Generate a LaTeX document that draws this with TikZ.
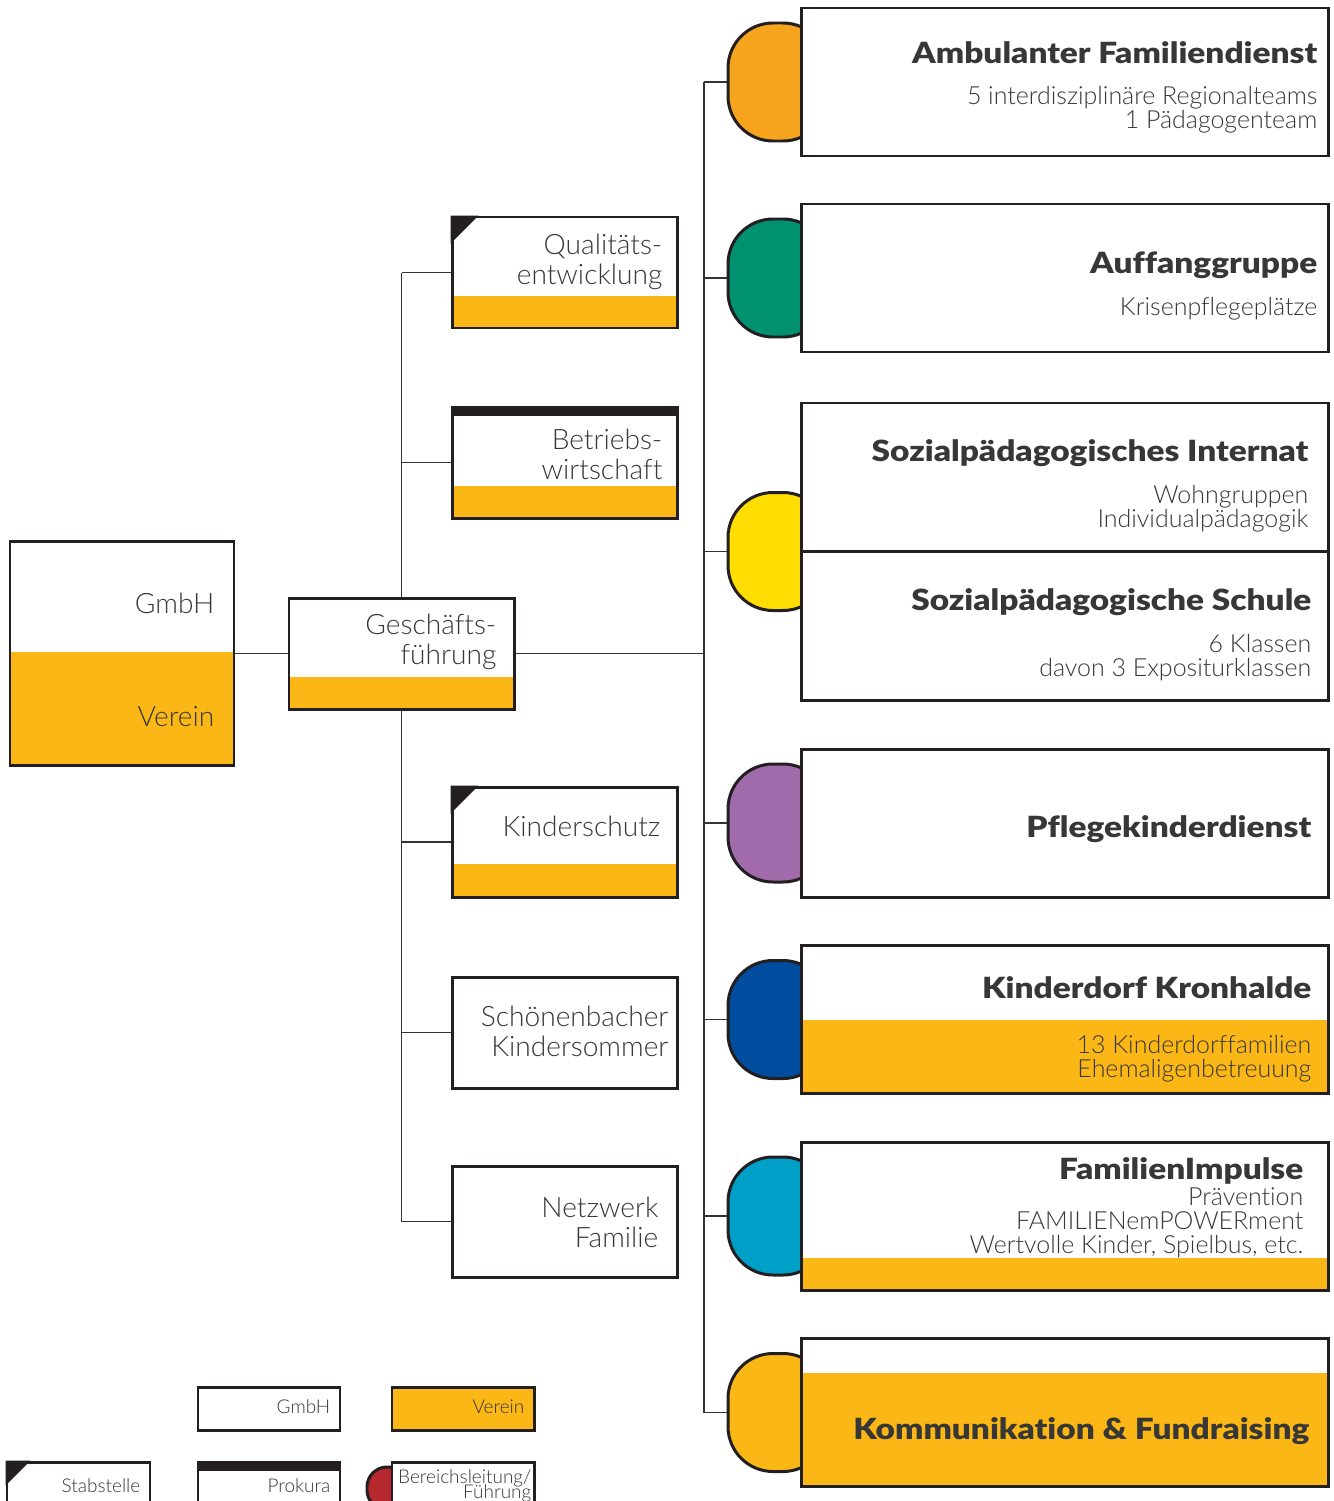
\documentclass[tikz,border=0pt]{standalone}
\usepackage{fontspec}
\setmainfont{Lato}[UprightFont=* Light, BoldFont=* Black, BoldFeatures={FakeStretch=1.145}, Ligatures=CommonOff]
\definecolor{ink}{RGB}{35,31,32}
\definecolor{grau}{RGB}{55,55,55}
\definecolor{verein}{RGB}{251,183,21}
\definecolor{ambC}{RGB}{246,164,30}
\definecolor{aufC}{RGB}{0,146,112}
\definecolor{sozC}{RGB}{255,221,0}
\definecolor{pflC}{RGB}{160,106,171}
\definecolor{kdfC}{RGB}{0,76,159}
\definecolor{famC}{RGB}{0,159,200}
\definecolor{leitC}{RGB}{183,40,46}
\newcommand\tightlines{\lineskiplimit=-5pt\lineskip=0pt\relax}

\begin{document}
\begin{tikzpicture}[
    rim/.style={draw=ink, line width=0.85pt},
    box/.style={rim, fill=white, minimum width=2.25cm, minimum height=1.11cm, inner sep=0pt},
    wide/.style={rim, fill=white, minimum width=5.27cm, minimum height=1.48cm, inner sep=0pt},
    tab/.style={rim, rounded corners=0.45cm, minimum width=1cm, minimum height=1.18cm, inner sep=0pt},
    band/.style={path picture={\fill[verein] ([yshift=#1]path picture bounding box.south west) rectangle (path picture bounding box.south east);}},
    link/.style={draw=black!80, line width=0.4pt},
    txt/.style={text=grau, inner sep=0pt, align=right, anchor=north east, font=\fontsize{8}{8.6}\selectfont},
    head/.style={text=grau, inner sep=0pt, anchor=north east, font=\bfseries\fontsize{8.3}{9}\selectfont},
    sub/.style={text=grau, inner sep=0pt, align=right, anchor=north east, font={\fontsize{7.1}{6.8}\selectfont\tightlines}},
    key/.style={text=grau, inner sep=0pt, align=right, anchor=north east, font={\fontsize{5.4}{4.3}\selectfont\tightlines}}]
  \useasboundingbox (0,0) rectangle (13.33,-15.01);

  \node[box, minimum width=2.24cm, minimum height=2.24cm, band=1.14cm] (gmbh) at (1.22,-6.535) {};
  \node[txt] (gmbhT) at (2.15,-5.92) {GmbH};
  \node[txt] (vereinT) at (2.15,-7.06) {Verein};
  \node[box, band=0.32cm] (gf) at (4.015,-6.535) {};
  \node[txt] (gfT) at (4.97,-6.13) {Geschäfts-\\führung};

  \node[box, band=0.32cm] (qual) at (5.645,-2.725) {};
  \fill[ink] (qual.north west) -- ++(0.28,0) -- ++(-0.28,-0.28) -- cycle;
  \node[txt] (qualT) at (6.63,-2.33) {Qualitäts-\\entwicklung};
  \node[box, band=0.32cm] (betr) at (5.645,-4.625) {};
  \fill[ink] (betr.north west) rectangle ([yshift=-0.1cm]betr.north east);
  \node[txt] (betrT) at (6.63,-4.28) {Betriebs-\\wirtschaft};
  \node[box, minimum height=1.10cm, band=0.33cm] (kind) at (5.645,-8.42) {};
  \fill[ink] (kind.north west) -- ++(0.28,0) -- ++(-0.28,-0.28) -- cycle;
  \node[txt] (kindT) at (6.61,-8.15) {Kinderschutz};
  \node[box] (schoen) at (5.645,-10.325) {};
  \node[txt] (schoenT) at (6.69,-10.05) {Schönenbacher\\Kindersommer};
  \node[box] (netz) at (5.645,-12.215) {};
  \node[txt] (netzT) at (6.59,-11.96) {Netzwerk\\Familie};

  \node[tab, fill=ambC] (ambT) at (7.78,-0.82) {};
  \node[wide] (amb) at (10.645,-0.82) {};
  \node[head] (ambH) at (13.18,-0.41) {Ambulanter Familiendienst};
  \node[sub] (ambS) at (13.18,-0.855) {5 interdisziplinäre Regionalteams\\1 Pädagogenteam};

  \node[tab, fill=aufC] (aufT) at (7.78,-2.78) {};
  \node[wide] (auf) at (10.645,-2.78) {};
  \node[head] (aufH) at (13.18,-2.51) {Auffanggruppe};
  \node[sub] (aufS) at (13.18,-2.965) {Krisenpflegeplätze};

  \node[tab, fill=sozC] (sozT) at (7.78,-5.515) {};
  \node[wide, minimum height=2.97cm] (soz) at (10.645,-5.515) {};
  \draw[rim] (soz.west) -- (soz.east);
  \node[head] (sozH) at (13.09,-4.39) {Sozialpädagogisches Internat};
  \node[sub] (sozS) at (13.09,-4.845) {Wohngruppen\\Individualpädagogik};
  \node[head] (schuleH) at (13.12,-5.88) {Sozialpädagogische Schule};
  \node[sub] (schuleS) at (13.12,-6.335) {6 Klassen\\davon 3 Expositurklassen};

  \node[tab, fill=pflC] (pflT) at (7.78,-8.23) {};
  \node[wide] (pfl) at (10.645,-8.23) {};
  \node[head] (pflH) at (13.12,-8.15) {Pflegekinderdienst};

  \node[tab, fill=kdfC] (kdfT) at (7.78,-10.195) {};
  \node[wide, band=0.74cm] (kdf) at (10.645,-10.195) {};
  \node[head] (kdfH) at (13.12,-9.76) {Kinderdorf Kronhalde};
  \node[sub] (kdfS) at (13.12,-10.345) {13 Kinderdorffamilien\\Ehemaligenbetreuung};

  \node[tab, fill=famC] (famT) at (7.78,-12.16) {};
  \node[wide, band=0.32cm] (fam) at (10.645,-12.16) {};
  \node[head] (famH) at (13.04,-11.57) {FamilienImpulse};
  \node[sub] (famS) at (13.04,-11.87) {Prävention\\FAMILIENemPOWERment\\Wertvolle Kinder, Spielbus, etc.};

  \node[tab, fill=verein] (komT) at (7.78,-14.125) {};
  \node[wide, band=1.13cm] (kom) at (10.645,-14.12) {};
  \node[head] (komH) at (13.10,-14.17) {Kommunikation \& Fundraising};

  \node[box, minimum width=1.42cm, minimum height=0.43cm] (lgmbh) at (2.69,-14.085) {};
  \node[key] (lgmbhT) at (3.31,-13.99) {GmbH};
  \node[box, minimum width=1.42cm, minimum height=0.43cm, fill=verein] (lverein) at (4.63,-14.085) {};
  \node[key] (lvereinT) at (5.25,-13.99) {Verein};
  \node[box, minimum width=1.43cm, minimum height=0.43cm] (lstab) at (0.785,-14.835) {};
  \fill[ink] (lstab.north west) -- ++(0.25,0) -- ++(-0.25,-0.25) -- cycle;
  \node[key] (lstabT) at (1.41,-14.78) {Stabstelle};
  \node[box, minimum width=1.42cm, minimum height=0.43cm] (lprok) at (2.69,-14.835) {};
  \fill[ink] (lprok.north west) rectangle ([yshift=-0.1cm]lprok.north east);
  \node[key] (lprokT) at (3.31,-14.78) {Prokura};
  \node[tab, fill=leitC, minimum width=0.5cm, minimum height=0.43cm, rounded corners=0.2cm] (lleitT) at (3.92,-14.885) {};
  \node[box, minimum width=1.42cm, minimum height=0.43cm] (lleit) at (4.63,-14.835) {};
  \node[key] (lleitS) at (5.32,-14.69) {Bereichsleitung/\\Führung};

  \coordinate (rt) at (7.04,-6.535);
  \draw[link] (gmbh.east) -- (gf.west);
  \draw[link] (gf.east) -- (rt);
  \draw[link] (ambT.west -| rt) -- (komT.west -| rt);
  \foreach \n in {ambT,aufT,sozT,pflT,kdfT,famT,komT}
    \draw[link] (\n.west -| rt) -- (\n.west);
  \draw[link] (gf.north) -- (gf.north |- qual.west);
  \draw[link] (gf.south) -- (gf.south |- netz.west);
  \foreach \n in {qual,betr,kind,schoen,netz}
    \draw[link] (\n.west -| gf.south) -- (\n.west);
\end{tikzpicture}
\end{document}
